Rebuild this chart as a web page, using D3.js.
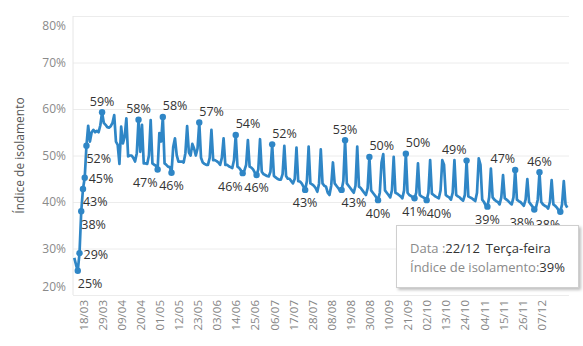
<!DOCTYPE html>
<html>
<head>
<meta charset="utf-8">
<title>Índice de isolamento</title>
<style>
body { margin: 0; background: #fff; }
#chart { width: 583px; height: 346px; }
svg text { font-family: 'Open Sans', sans-serif; }
.y_axis path, .x_axis path { display: none; }
.y_axis line { stroke: #ececec; stroke-width: 1; }
.y_axis text { font-size: 12px; fill: #8a8a8a; }
.x_axis line { display: none; }
.x_axis text { font-size: 11.5px; fill: #858585; }
.rotulo { font-size: 12.5px; fill: #333; }
</style>
<script src="https://cdn.jsdelivr.net/npm/d3@7"></script>
</head>
<body>
<div id="chart"></div>
<script>

// first day of the series
var start_date = "13/03/2020";

// daily isolation index (%), one row per week (Mon..Sun)
var isolamento = [
  28, 26.5, 25.2,                          // 13-15/03
  29, 38, 42.8, 45.2, 52.1, 56.4, 53,      // 16-22/03
  55, 55.5, 55, 55.3, 55, 56.5, 59.3,      // 23-29/03
  57, 56.6, 56.1, 56, 56.3, 57, 58.7,      // 30/03-05/04
  53, 52.3, 48.2, 56.2, 52.6, 54, 58,      // 06-12/04
  49.8, 50, 50, 49.5, 48.7, 50.5, 57.7,    // 13-19/04
  50.8, 56.6, 48.3, 48.3, 48.2, 50, 57.6,  // 20-26/04
  48.3, 48, 47.8, 47, 54.8, 53, 58.3,      // 27/04-03/05
  48.3, 48, 47.6, 47.5, 46.3, 51.9, 53.7,  // 04-10/05
  50.1, 48.7, 48.7, 48.7, 48.5, 50.5, 56.3,// 11-17/05
  50.7, 50, 52.5, 51.5, 50, 51.5, 57.1,    // 18-24/05
  49.5, 48.5, 48.2, 48, 48, 49.5, 55.5,    // 25-31/05
  49, 49, 48.8, 48.5, 48, 49.5, 53.7,      // 01-07/06
  48, 48, 47.7, 47.5, 47.3, 49, 54.4,      // 08-14/06
  47.6, 47.3, 46.8, 46.2, 46.8, 48, 53.3,  // 15-21/06
  47.6, 47.4, 47, 46.3, 45.8, 47, 53.5,    // 22-28/06
  46.5, 46, 45.8, 45.6, 45.5, 46.5, 52.4,  // 29/06-05/07
  45.6, 45.3, 45, 44.8, 44.8, 46, 52.1,    // 06-12/07
  45.6, 45, 45, 44.5, 44, 45, 51.7,        // 13-19/07
  44.5, 44.4, 44, 43.3, 42.6, 44.5, 51.9,  // 20-26/07
  44, 43.8, 43.5, 43, 42.2, 44, 51.3,      // 27/07-02/08
  44, 43.5, 43.3, 42, 41.5, 43.5, 48.5,    // 03-09/08
  44, 43.5, 43, 42.5, 42.6, 44.5, 53.3,    // 10-16/08
  44, 43.5, 43, 42.5, 42, 43.5, 51.9,      // 17-23/08
  43.3, 43, 42.5, 42, 41.5, 43, 49.7,      // 24-30/08
  42.5, 42, 41.5, 41, 40.4, 42, 48.5,      // 31/08-06/09
  50.3, 42.5, 42, 41.5, 41, 42.5, 49.7,    // 07-13/09
  42, 41.8, 41.5, 41.2, 40.8, 42.5, 50.4,  // 14-20/09
  42, 41.5, 41.3, 41, 40.8, 42, 48.3,      // 21-27/09
  41.5, 41.2, 41, 40.8, 40.4, 42, 49,      // 28/09-04/10
  41.8, 41.5, 41.2, 41, 40.8, 42.5, 49,    // 05-11/10
  48, 41.5, 41.2, 41, 40.5, 42, 49,        // 12-18/10
  41.5, 41.2, 41, 40.6, 40.3, 41.5, 48.9,  // 19-25/10
  41.2, 41, 40.8, 40.5, 40.2, 42, 49.4,    // 26/10-01/11
  48, 40.5, 40, 39.3, 39, 41, 47.2,        // 02-08/11
  41, 40.5, 40.2, 40, 39.5, 41, 45.8,      // 09-15/11
  40.8, 40.5, 40.2, 39.8, 39.5, 41, 46.9,  // 16-22/11
  40.5, 40.2, 40, 39.6, 39.2, 40.5, 44.9,  // 23-29/11
  40, 39.5, 39, 38.4, 38.8, 40.5, 46.4,    // 30/11-06/12
  40, 39.5, 39.2, 39, 38.6, 40, 44.7,      // 07-13/12
  39.5, 39.2, 38.8, 38.2, 37.9, 39.5, 44.5,// 14-20/12
  39.5, 38.8                               // 21-22/12
];

var x_ticks = ["18/03", "29/03", "09/04", "20/04", "01/05", "12/05", "23/05",
               "03/06", "14/06", "25/06", "06/07", "17/07", "28/07", "08/08",
               "19/08", "30/08", "10/09", "21/09", "02/10", "13/10", "24/10",
               "04/11", "15/11", "26/11", "07/12"];
var y_ticks = [20, 30, 40, 50, 60, 70, 80];

// days that carry a value label (and a dot)
var rotulos = ["15/03", "16/03", "17/03", "18/03", "19/03", "20/03", "29/03",
               "19/04", "30/04", "03/05", "08/05", "24/05", "14/06", "18/06",
               "26/06", "05/07", "24/07", "16/08", "14/08", "30/08", "04/09",
               "20/09", "25/09", "02/10", "25/10", "06/11", "22/11", "03/12",
               "06/12", "18/12"];

var dias_semana = ["Domingo", "Segunda-feira", "Terça-feira", "Quarta-feira",
                   "Quinta-feira", "Sexta-feira", "Sábado"];

// where each label sits around its point
var lugar = {
  "15/03": "br", "16/03": "r", "17/03": "br", "18/03": "br", "19/03": "r",
  "20/03": "br", "29/03": "a", "19/04": "a", "30/04": "bl", "03/05": "ar",
  "08/05": "b", "24/05": "ar", "14/06": "ar", "18/06": "bl", "26/06": "b",
  "05/07": "ar", "24/07": "b", "16/08": "a", "14/08": "br", "30/08": "ar",
  "04/09": "b", "20/09": "ar", "25/09": "b", "02/10": "br", "25/10": "al",
  "06/11": "b", "22/11": "al", "03/12": "bl", "06/12": "a", "18/12": "bl"
};
var offs = {
  r:  { a: "start",  dx: 4, dy: 1 },
  br: { a: "start",  dx: 0, dy: 13 },
  b:  { a: "middle", dx: 0, dy: 13 },
  bl: { a: "end",    dx: 0, dy: 13 },
  a:  { a: "middle", dx: 0, dy: -11 },
  ar: { a: "start",  dx: 0, dy: -11 },
  al: { a: "end",    dx: 0, dy: -11 }
};

var parse = d3.timeParse("%d/%m/%Y");
var fmt_dm = d3.timeFormat("%d/%m");
var t0 = parse(start_date);

var data = isolamento.map(function(v, i) {
  return { date: d3.timeDay.offset(t0, i), value: v };
});

var plot_l = 73, plot_r = 569, plot_t = 16, plot_b = 295;

var x = d3.scaleTime()
          .domain([new Date(2020, 2, 12, 6), new Date(2020, 11, 23, 0)])
          .range([plot_l, plot_r]);
var y = d3.scaleLinear()
          .domain([20, 80])
          .range([plot_b, plot_t]);

var svg = d3.select("#chart").append("svg")
            .attr("width", 583).attr("height", 346);

var defs = svg.append("defs");
defs.append("filter").attr("id", "sombra")
    .attr("x", "-10%").attr("y", "-10%").attr("width", "130%").attr("height", "140%")
    .append("feDropShadow")
    .attr("dx", 2).attr("dy", 2).attr("stdDeviation", 1.5)
    .attr("flood-color", "#000").attr("flood-opacity", 0.25);

// y axis + gridlines
var y_axis = d3.axisLeft(y)
               .tickValues(y_ticks)
               .tickSize(-(plot_r - plot_l))
               .tickPadding(7)
               .tickFormat(function(d) { return d + "%"; });

var gy = svg.append("g")
            .attr("class", "y_axis")
            .attr("transform", "translate(" + plot_l + ",0)")
            .call(y_axis);
gy.selectAll("text")
  .attr("transform", function(d) {
    if (d === 80) return "translate(0,10)";
    if (d === 20) return "translate(0,-8)";
    return null;
  });

// left border
svg.append("line")
   .attr("x1", plot_l).attr("x2", plot_l)
   .attr("y1", plot_t).attr("y2", plot_b)
   .attr("stroke", "#e6e6e6");

// x axis
var tick_dates = x_ticks.map(function(s) { return parse(s + "/2020"); });
var x_axis = d3.axisBottom(x)
               .tickValues(tick_dates)
               .tickSize(0)
               .tickFormat(fmt_dm);

var gx = svg.append("g")
            .attr("class", "x_axis")
            .attr("transform", "translate(0," + plot_b + ")")
            .call(x_axis);
gx.selectAll("text")
  .attr("transform", "rotate(-90)")
  .attr("text-anchor", "end")
  .attr("x", -5)
  .attr("y", 0)
  .attr("dy", "0.36em");

// axis title
svg.append("text")
   .attr("transform", "translate(20," + ((plot_t + plot_b) / 2) + ") rotate(-90)")
   .attr("text-anchor", "middle")
   .attr("dy", "0.35em")
   .style("font-size", "12px")
   .style("fill", "#555")
   .text("Índice de isolamento");

// line
var line = d3.line()
             .x(function(d) { return x(d.date); })
             .y(function(d) { return y(d.value); });

var azul = "#2f86c6";

svg.append("path")
   .datum(data)
   .attr("fill", "none")
   .attr("stroke", azul)
   .attr("stroke-width", 2.7)
   .attr("stroke-linejoin", "round")
   .attr("d", line);

// labelled points
var marcados = data.filter(function(d) { return rotulos.indexOf(fmt_dm(d.date)) >= 0; });

svg.selectAll(".ponto")
   .data(marcados)
   .enter()
   .append("circle")
   .attr("class", "ponto")
   .attr("cx", function(d) { return x(d.date); })
   .attr("cy", function(d) { return y(d.value); })
   .attr("r", 3.2)
   .attr("fill", azul);

svg.selectAll(".rotulo")
   .data(marcados)
   .enter()
   .append("text")
   .attr("class", "rotulo")
   .attr("x", function(d) { return x(d.date) + offs[lugar[fmt_dm(d.date)]].dx; })
   .attr("y", function(d) { return y(d.value) + offs[lugar[fmt_dm(d.date)]].dy; })
   .attr("dy", "0.35em")
   .attr("text-anchor", function(d) { return offs[lugar[fmt_dm(d.date)]].a; })
   .text(function(d) { return Math.round(d.value) + "%"; });

// tooltip for the last day
var ultimo = data[data.length - 1];
var tip = svg.append("g").attr("transform", "translate(396.5,225.5)");
tip.append("rect")
   .attr("width", 182).attr("height", 62)
   .attr("fill", "#fff")
   .attr("stroke", "#cfcfcf")
   .attr("filter", "url(#sombra)");

var l1 = tip.append("text").attr("x", 13.5).attr("y", 22.5).attr("dy", "0.35em")
            .style("font-size", "13px");
l1.append("tspan").style("fill", "#8a8a8a").text("Data :");
l1.append("tspan").style("fill", "#333").text(fmt_dm(ultimo.date));
l1.append("tspan").attr("dx", 6).style("fill", "#333").text(dias_semana[ultimo.date.getDay()]);

var l2 = tip.append("text").attr("x", 13.5).attr("y", 41.5).attr("dy", "0.35em")
            .style("font-size", "13px");
l2.append("tspan").style("fill", "#8a8a8a").text("Índice de isolamento:");
l2.append("tspan").style("fill", "#333").text(Math.round(ultimo.value) + "%");

</script>
</body>
</html>
